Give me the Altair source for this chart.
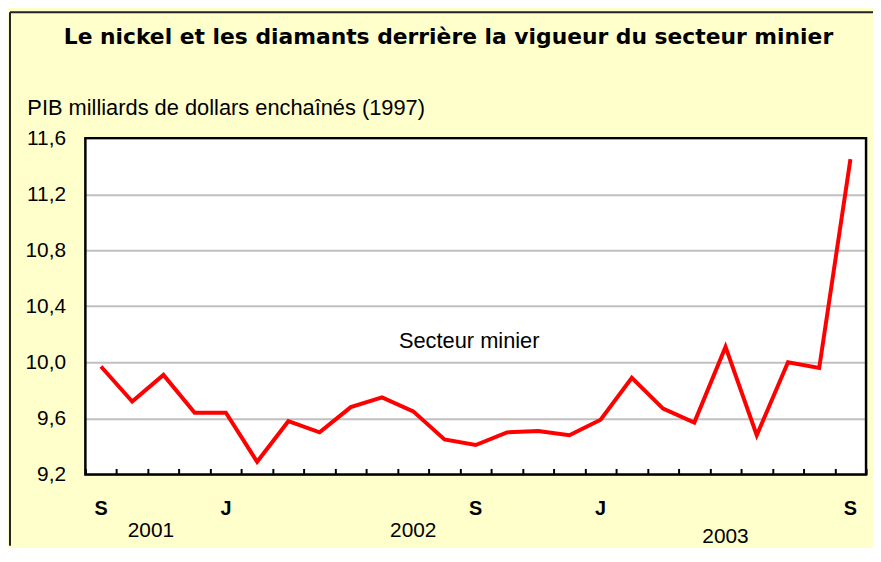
import altair as alt
import pandas as pd

# ---- data ----
months = ["2001-09", "2001-10", "2001-11", "2001-12", "2002-01", "2002-02",
          "2002-03", "2002-04", "2002-05", "2002-06", "2002-07", "2002-08",
          "2002-09", "2002-10", "2002-11", "2002-12", "2003-01", "2003-02",
          "2003-03", "2003-04", "2003-05", "2003-06", "2003-07", "2003-08",
          "2003-09"]
pib = [9.97, 9.72, 9.91, 9.64, 9.64, 9.29, 9.58, 9.50, 9.68, 9.75, 9.65, 9.45,
       9.41, 9.50, 9.51, 9.48, 9.59, 9.89, 9.67, 9.57, 10.11, 9.48, 10.00, 9.96,
       11.45]

month_labels = ["S", "J", "S", "J", "S"]
month_label_idx = [0, 4, 12, 16, 24]
year_labels = ["2001", "2002", "2003"]
year_label_idx = [1.6, 10.0, 20.0]
y_ticks = [9.2, 9.6, 10.0, 10.4, 10.8, 11.2, 11.6]

title_text = "Le nickel et les diamants derrière la vigueur du secteur minier"
y_title = "PIB milliards de dollars enchaînés (1997)"
series_name = "Secteur minier"

# ---- layout ----
PW, PH = 787, 339
FONT = "Liberation Sans"

df = pd.DataFrame({"i": list(range(len(months))), "mois": months, "pib": pib})
df_months = pd.DataFrame({"i": month_label_idx, "lab": month_labels})
df_years_a = pd.DataFrame({"i": year_label_idx[:2], "lab": year_labels[:2]})
df_years_b = pd.DataFrame({"i": year_label_idx[2:], "lab": year_labels[2:]})
df_note = pd.DataFrame({"i": [9.54], "pib": [10.1], "lab": [series_name]})

x_enc = alt.X(
    "i:Q",
    scale=alt.Scale(domain=[-0.5, len(months) - 0.5], nice=False, zero=False),
    axis=alt.Axis(
        values=[k - 0.5 for k in range(len(months) + 1)],
        labels=False, domain=False, grid=False, title=None,
        tickSize={"expr": "-6"}, tickColor="black", tickWidth=2,
    ),
)
y_enc = alt.Y(
    "pib:Q",
    scale=alt.Scale(domain=[9.2, 11.6], nice=False, zero=False),
    axis=alt.Axis(
        values=y_ticks,
        labelExpr="replace(format(datum.value, '.1f'), '.', ',')",
        ticks=False, domain=False, labelPadding=20,
        labelFont=FONT, labelFontSize=21, labelColor="black",
        gridColor="#C0C0C0", gridWidth=2,
        title=y_title, titleAngle=0, titleAlign="left",
        titleBaseline="alphabetic", titleX=-59, titleY=-24,
        titleFont=FONT, titleFontSize=22, titleFontWeight="normal",
        titleColor="black",
    ),
)

one = alt.Data(values=[{}])

border_top = alt.Chart(one).mark_rule(color="#222222", strokeWidth=2).encode(
    x=alt.value(-76), x2=alt.value(PW + 7), y=alt.value(-127)
)
border_left = alt.Chart(one).mark_rule(color="#222222", strokeWidth=2).encode(
    x=alt.value(-76), y=alt.value(-127), y2=alt.value(PH + 72)
)

frame = alt.Chart(one).mark_rect(fill=None, stroke="black", strokeWidth=2.5).encode(
    x=alt.value(0), x2=alt.value(PW), y=alt.value(0), y2=alt.value(PH)
)

line = alt.Chart(df).mark_line(color="#FF0000", strokeWidth=4).encode(
    x=x_enc, y=y_enc
)

note = alt.Chart(df_note).mark_text(
    align="left", baseline="alphabetic", font=FONT, fontSize=22, color="black"
).encode(x=x_enc, y=y_enc, text="lab:N")

mlab = alt.Chart(df_months).mark_text(
    align="center", baseline="alphabetic", font=FONT, fontSize=20,
    fontWeight="bold", color="black"
).encode(x=x_enc, y=alt.value(380), text="lab:N")

ylab_a = alt.Chart(df_years_a).mark_text(
    align="center", baseline="alphabetic", font=FONT, fontSize=21, color="black"
).encode(x=x_enc, y=alt.value(402), text="lab:N")

ylab_b = alt.Chart(df_years_b).mark_text(
    align="center", baseline="alphabetic", font=FONT, fontSize=21, color="black"
).encode(x=x_enc, y=alt.value(408), text="lab:N")

title = alt.Chart(alt.Data(values=[{"t": title_text}])).mark_text(
    align="center", baseline="alphabetic", font="DejaVu Sans", fontSize=22,
    fontWeight="bold", color="black"
).encode(x=alt.value(366), y=alt.value(-95), text="t:N")

chart = alt.layer(
    border_top, border_left, line, frame, note, mlab, ylab_a, ylab_b, title
).properties(
    width=PW, height=PH,
    autosize=alt.AutoSizeParams(type="none"),
    padding={"left": 78, "top": 129, "right": 7, "bottom": 72},
    background="#FFFFCC",
).configure_view(fill="white", stroke=None)

chart.save("out.html", embed_options={"renderer": "svg", "actions": False})
